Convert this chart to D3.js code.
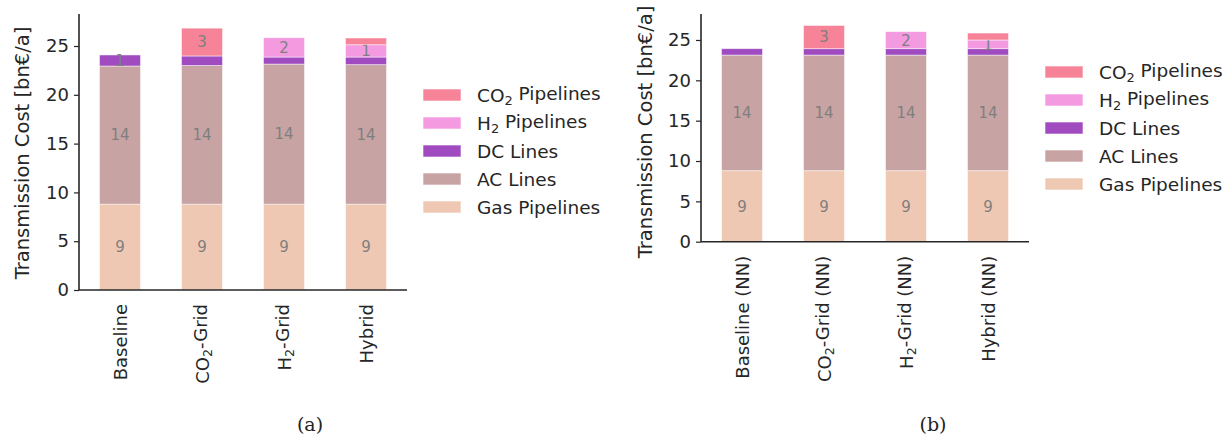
<!DOCTYPE html>
<html>
<head>
<meta charset="utf-8">
<script src="https://cdn.jsdelivr.net/npm/d3@7"></script>
<style>
  body { margin: 0; background: #fff; }
  svg { display: block; font-family: "DejaVu Sans", sans-serif; }
</style>
</head>
<body>
<svg id="chart" width="1231" height="439"></svg>
<script>
// stack order, bottom to top
const seriesNames = ["Gas Pipelines", "AC Lines", "DC Lines", "H₂ Pipelines", "CO₂ Pipelines"];
const seriesColors = ["#efc8b3", "#c8a3a3", "#a04bc0", "#f39ae0", "#f78398"];

const categoriesA = ["Baseline", "CO₂-Grid", "H₂-Grid", "Hybrid"];
const gasA = [8.8, 8.8, 8.8, 8.8];
const acA = [14.15, 14.2, 14.35, 14.29];
const dcA = [1.13, 0.98, 0.72, 0.78];
const h2A = [0, 0, 1.98, 1.26];
const co2A = [0, 2.85, 0, 0.69];

const categoriesB = ["Baseline (NN)", "CO₂-Grid (NN)", "H₂-Grid (NN)", "Hybrid (NN)"];
const gasB = [8.8, 8.8, 8.8, 8.8];
const acB = [14.33, 14.33, 14.33, 14.33];
const dcB = [0.79, 0.79, 0.79, 0.79];
const h2B = [0, 0, 2.11, 1.08];
const co2B = [0, 2.88, 0, 0.86];

const yTicks = [0, 5, 10, 15, 20, 25];
const yLabel = "Transmission Cost [bn€/a]";

const svg = d3.select("#chart");

// writes text with a "₂" rendered as a mathtext-like subscript
function richText(sel, str) {
  const parts = str.split("₂");
  parts.forEach((p, i) => {
    if (i > 0) {
      sel.append("tspan").attr("font-size", "0.7em").attr("dy", "0.25em").text("2");
      sel.append("tspan").attr("dy", "-0.25em").text(p);
    } else if (p) {
      sel.append("tspan").text(p);
    }
  });
}

function panel(cfg) {
  const g = svg.append("g");
  const x = d3.scaleBand().domain(cfg.categories).range([cfg.x0, cfg.x1]).paddingInner(0.5).paddingOuter(0.25);
  const y = d3.scaleLinear().domain([0, cfg.yMax]).range([cfg.y0, cfg.yTop]);

  const rows = cfg.categories.map((c, i) => ({
    cat: c,
    s0: cfg.series[0][i], s1: cfg.series[1][i], s2: cfg.series[2][i], s3: cfg.series[3][i], s4: cfg.series[4][i]
  }));
  const stacked = d3.stack().keys(["s0", "s1", "s2", "s3", "s4"])(rows);

  const layer = g.selectAll("g.layer").data(stacked).join("g")
    .attr("fill", (d, i) => seriesColors[i]);

  layer.selectAll("rect").data(d => d.filter(p => p[1] - p[0] > 0)).join("rect")
    .attr("x", d => x(d.data.cat))
    .attr("width", x.bandwidth())
    .attr("y", d => y(d[1]))
    .attr("height", d => y(d[0]) - y(d[1]))
    .attr("stroke", "#ffffff")
    .attr("stroke-opacity", 0.6)
    .attr("stroke-width", 0.8);

  layer.selectAll("text").data(d => d.filter(p => p[1] - p[0] >= 1)).join("text")
    .attr("x", d => x(d.data.cat) + x.bandwidth() / 2)
    .attr("y", d => y((d[0] + d[1]) / 2))
    .attr("dy", "0.36em")
    .attr("text-anchor", "middle")
    .attr("fill", "#7f7f7f")
    .attr("font-size", 15)
    .text(d => Math.round(d[1] - d[0]));

  // y axis
  const yAxis = g.append("g").attr("transform", `translate(${cfg.x0},0)`)
    .call(d3.axisLeft(y).tickValues(yTicks).tickSize(5).tickPadding(5));
  yAxis.select(".domain").attr("d", `M0,${cfg.yTop}V${cfg.y0}`).attr("stroke", "#262626").attr("stroke-width", 1.6);
  yAxis.selectAll(".tick line").attr("stroke", "#262626").attr("stroke-width", 1.2);
  yAxis.selectAll(".tick text").attr("font-size", 18).attr("fill", "#262626").attr("font-family", "DejaVu Sans");

  // x axis
  g.append("line").attr("x1", cfg.x0).attr("x2", cfg.x1).attr("y1", cfg.y0).attr("y2", cfg.y0)
    .attr("stroke", "#262626").attr("stroke-width", 1.6);
  g.selectAll("text.xlab").data(cfg.categories).join("text")
    .attr("class", "xlab")
    .attr("transform", d => `translate(${x(d) + x.bandwidth() / 2 + 6.5},${cfg.y0 + 14}) rotate(-90)`)
    .attr("text-anchor", "end")
    .attr("font-size", 18)
    .attr("fill", "#262626")
    .each(function (d) { richText(d3.select(this), d); });

  g.append("text")
    .attr("transform", `translate(${cfg.yLabelX},${cfg.yLabelY}) rotate(-90)`)
    .attr("text-anchor", "middle")
    .attr("font-size", 19.5)
    .attr("fill", "#262626")
    .text(yLabel);

  // legend, top entry is last series
  const legend = g.append("g").attr("transform", `translate(${cfg.legX},${cfg.legY})`);
  const order = d3.range(seriesNames.length).reverse();
  order.forEach((si, k) => {
    const row = legend.append("g").attr("transform", `translate(0,${k * 28})`);
    row.append("rect").attr("x", 0).attr("y", -6).attr("width", 38).attr("height", 12)
      .attr("fill", seriesColors[si]).attr("stroke", "#ffffff").attr("stroke-opacity", 0.6);
    const t = row.append("text").attr("x", 54).attr("dy", "0.36em").attr("font-size", 18.5).attr("fill", "#262626");
    richText(t, seriesNames[si]);
  });

  svg.append("text")
    .attr("x", cfg.capX).attr("y", cfg.capY)
    .attr("text-anchor", "middle")
    .attr("font-family", "DejaVu Serif, serif")
    .attr("font-size", 19)
    .attr("fill", "#222")
    .text(cfg.caption);
}

panel({
  categories: categoriesA, series: [gasA, acA, dcA, h2A, co2A],
  x0: 79, x1: 407, y0: 290, yTop: 14, yMax: 28.28,
  yLabelX: 29, yLabelY: 153, legX: 423, legY: 95, capX: 310, capY: 431, caption: "(a)"
});

panel({
  categories: categoriesB, series: [gasB, acB, dcB, h2B, co2B],
  x0: 701, x1: 1029, y0: 241.7, yTop: 14, yMax: 28.22,
  yLabelX: 652, yLabelY: 132, legX: 1045, legY: 72, capX: 933, capY: 431, caption: "(b)"
});
</script>
</body>
</html>
